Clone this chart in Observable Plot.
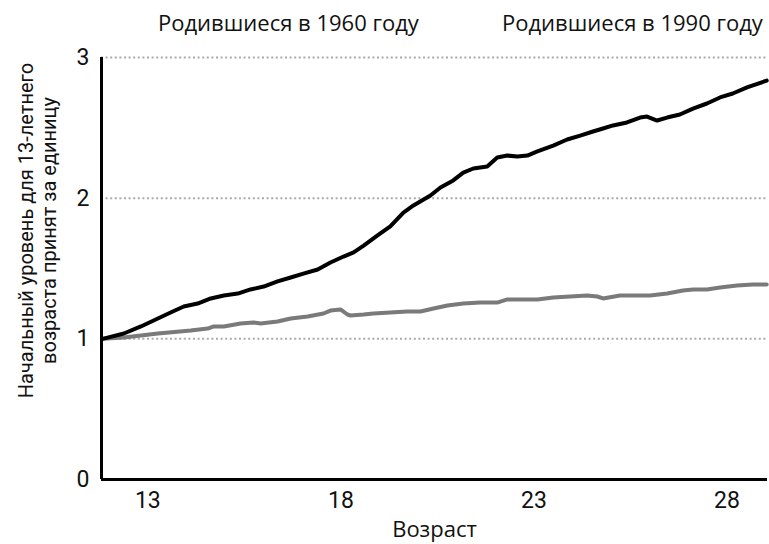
<!DOCTYPE html>
<html>
<head>
<meta charset="utf-8">
<script src="https://cdn.jsdelivr.net/npm/d3@7"></script>
<script src="https://cdn.jsdelivr.net/npm/@observablehq/plot@0.6"></script>
<style>
  body { margin: 0; background: #fff; }
  #wrap { width: 769px; }
  #legend { position: relative; height: 44px; font-family: "Open Sans", sans-serif; font-size: 22px; color: #111; }
  #legend span { position: absolute; top: 7px; white-space: nowrap; line-height: 30px; }
</style>
</head>
<body>
<div id="wrap">
  <div id="legend"></div>
  <div id="chart"></div>
</div>
<script>
// Series names (legend labels above the chart)
const seriesNames = ["Родившиеся в 1960 году", "Родившиеся в 1990 году"];

// Gray series
const ages1960 = [11.83, 12.38, 13.26, 14.11, 14.55, 14.71, 14.97, 15.40, 15.74, 15.92, 16.36, 16.70, 17.14, 17.55, 17.73, 17.99, 18.17, 18.25, 18.59, 18.84, 19.28, 19.72, 20.06, 20.40, 20.76, 21.17, 21.61, 22.05, 22.31, 22.72, 23.09, 23.50, 23.94, 24.38, 24.64, 24.79, 25.23, 25.67, 26.01, 26.45, 26.86, 27.12, 27.48, 27.82, 28.26, 28.67, 29.03];
const values1960 = [1.000, 1.009, 1.038, 1.059, 1.073, 1.088, 1.088, 1.109, 1.116, 1.109, 1.123, 1.145, 1.159, 1.180, 1.201, 1.209, 1.173, 1.166, 1.173, 1.180, 1.187, 1.194, 1.194, 1.216, 1.237, 1.251, 1.258, 1.258, 1.280, 1.280, 1.280, 1.294, 1.301, 1.308, 1.301, 1.287, 1.308, 1.308, 1.308, 1.322, 1.344, 1.351, 1.351, 1.365, 1.379, 1.386, 1.386];

// Black series
const ages1990 = [11.83, 12.38, 12.82, 13.26, 13.59, 13.93, 14.29, 14.63, 14.97, 15.33, 15.66, 16.00, 16.36, 16.70, 17.03, 17.40, 17.73, 18.07, 18.33, 18.59, 18.95, 19.28, 19.62, 19.88, 20.32, 20.58, 20.91, 21.17, 21.43, 21.79, 22.05, 22.31, 22.57, 22.83, 23.09, 23.50, 23.86, 24.20, 24.53, 24.79, 25.05, 25.41, 25.75, 25.93, 26.19, 26.45, 26.78, 27.12, 27.48, 27.82, 28.15, 28.52, 29.03];
const values1990 = [1.000, 1.038, 1.088, 1.145, 1.187, 1.230, 1.251, 1.287, 1.308, 1.322, 1.351, 1.372, 1.408, 1.436, 1.464, 1.493, 1.543, 1.585, 1.614, 1.663, 1.735, 1.799, 1.898, 1.948, 2.019, 2.076, 2.126, 2.182, 2.211, 2.225, 2.289, 2.303, 2.296, 2.303, 2.332, 2.374, 2.417, 2.445, 2.474, 2.495, 2.517, 2.538, 2.573, 2.580, 2.552, 2.573, 2.595, 2.637, 2.673, 2.716, 2.744, 2.787, 2.836];

// Axes
const xDomain = [11.8, 29.05];
const xTicks = [13, 18, 23, 28];
const yDomain = [0, 3];
const yTicks = [0, 1, 2, 3];
const gridValues = [1, 2, 3];
const xLabel = "Возраст";
const yLabel = "Начальный уровень для 13-летнего\nвозраста принят за единицу";

const data1960 = ages1960.map((a, i) => ({age: a, value: values1960[i]}));
const data1990 = ages1990.map((a, i) => ({age: a, value: values1990[i]}));

// Legend labels
const legend = document.getElementById("legend");
const legendLeft = [158, 502];
seriesNames.forEach((name, i) => {
  const s = document.createElement("span");
  s.textContent = name;
  s.style.left = legendLeft[i] + "px";
  legend.appendChild(s);
});

const chart = Plot.plot({
  width: 769,
  height: 500,
  marginTop: 13,
  marginBottom: 65,
  marginLeft: 101,
  marginRight: 2,
  style: {fontFamily: "Roboto, sans-serif", fontSize: "23px", color: "#111", background: "#fff", overflow: "visible"},
  x: {domain: xDomain, ticks: xTicks, tickSize: 0, tickPadding: 12, tickFormat: d => String(d), label: null},
  y: {domain: yDomain, ticks: yTicks, tickSize: 0, tickPadding: 12, tickFormat: d => String(d), label: null},
  marks: [
    Plot.ruleY(gridValues, {stroke: "#aaa", strokeWidth: 2, strokeDasharray: "2,2.6"}),
    Plot.line(data1960, {x: "age", y: "value", stroke: "#7a7a7a", strokeWidth: 4}),
    Plot.line(data1990, {x: "age", y: "value", stroke: "#000", strokeWidth: 4}),
    Plot.ruleY([0], {stroke: "#000", strokeWidth: 3}),
    Plot.ruleX([xDomain[0]], {y1: yDomain[0], y2: yDomain[1], stroke: "#000", strokeWidth: 3}),
    Plot.text([xLabel], {text: d => d, frameAnchor: "bottom", dy: 57, fontFamily: "Open Sans, sans-serif", fontSize: 22, fill: "#111"}),
    Plot.text([yLabel], {text: d => d, frameAnchor: "left", textAnchor: "middle", dx: -64, dy: -38, rotate: -90, fontSize: 20, lineAnchor: "middle", lineHeight: 1.15, fill: "#111"})
  ]
});
document.getElementById("chart").appendChild(chart);
</script>
</body>
</html>
